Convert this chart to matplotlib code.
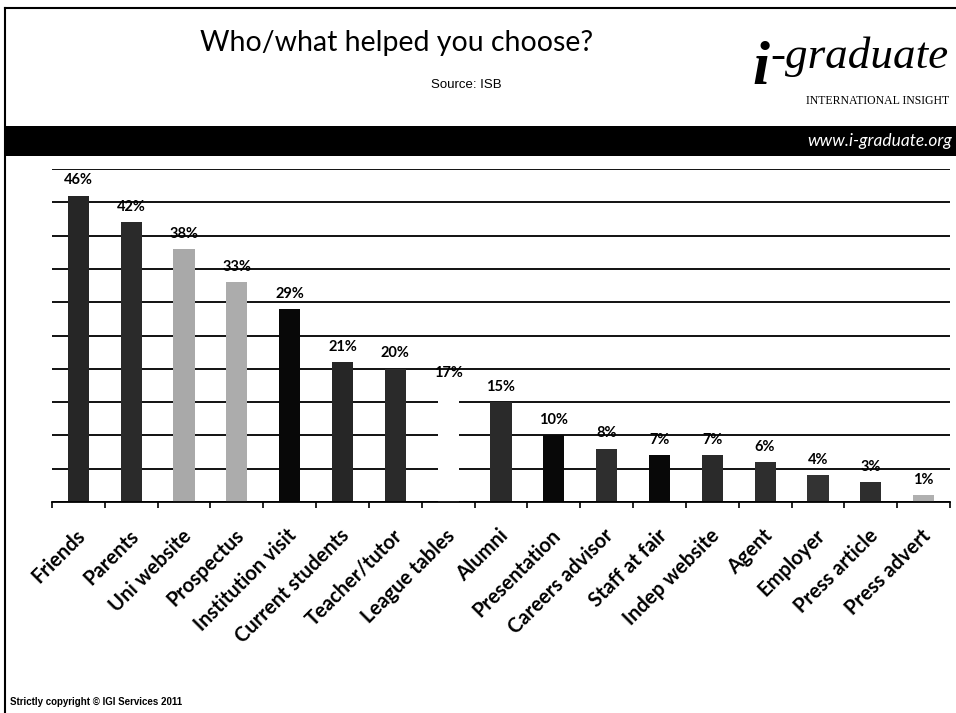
import numpy as np
import matplotlib.pyplot as plt
import matplotlib.transforms as mtransforms
from matplotlib.patches import Rectangle
from matplotlib.lines import Line2D

categories = ["Friends", "Parents", "Uni website", "Prospectus", "Institution visit",
              "Current students", "Teacher/tutor", "League tables", "Alumni",
              "Presentation", "Careers advisor", "Staff at fair", "Indep website",
              "Agent", "Employer", "Press article", "Press advert"]
values = [46, 42, 38, 33, 29, 21, 20, 17, 15, 10, 8, 7, 7, 6, 4, 3, 1]
bar_colors = ["#262626", "#2a2a2a", "#a9a9a9", "#acacac", "#080808",
              "#262626", "#2a2a2a", "#ffffff", "#2a2a2a",
              "#080808", "#2e2e2e", "#080808", "#2a2a2a",
              "#2e2e2e", "#333333", "#2e2e2e", "#b0b0b0"]

W, H = 956, 713
fig = plt.figure(figsize=(W / 100, H / 100), dpi=100)


def fx(x):
    return x / W


def fy(y):
    return 1 - y / H


# frame lines and black band
fig.add_artist(Line2D([fx(5), fx(956)], [fy(8), fy(8)], color="black", lw=1.5))
fig.add_artist(Line2D([fx(5), fx(5)], [fy(8), fy(713)], color="black", lw=1.5))
fig.add_artist(Rectangle((fx(5), fy(156)), fx(956) - fx(5), fy(126) - fy(156),
                         facecolor="black", edgecolor="none"))

# header texts
fig.text(fx(397), fy(51), "Who/what helped you choose?", fontsize=20.5,
         family="Lato", ha="center", va="baseline")
fig.text(fx(466), fy(88), "Source: ISB", fontsize=9.5,
         family="Liberation Sans", ha="center", va="baseline")
fig.text(fx(752), fy(84), "i", fontsize=44, family="Liberation Serif",
         style="italic", weight="bold", ha="left", va="baseline")
fig.text(fx(770), fy(68), "-graduate", fontsize=32.5, family="Liberation Serif",
         style="italic", ha="left", va="baseline")
fig.text(fx(949), fy(104), "INTERNATIONAL INSIGHT", fontsize=8.5,
         family="Liberation Serif", ha="right", va="baseline")
fig.text(fx(952), fy(141), "www.i-graduate.org", fontsize=12.5, family="Lato",
         style="italic", color="white", ha="right", va="center")

fig.text(fx(10), fy(702), "Strictly copyright \u00a9 IGI Services 2011", fontsize=7,
         family="Liberation Sans", weight="bold", ha="left", va="center")

# chart
ax = fig.add_axes([fx(52), fy(502), fx(950) - fx(52), fy(169) - fy(502)])
x = np.arange(len(categories))
ax.bar(x, values, width=0.4, color=bar_colors, zorder=2)

ax.set_xlim(-0.5, len(categories) - 0.5)
ax.set_ylim(0, 50)
ax.set_yticks(np.arange(0, 51, 5))
ax.yaxis.grid(True, color="#111111", lw=1.4, zorder=0)
ax.set_axisbelow(True)
ax.tick_params(axis="y", left=False, labelleft=False)

for s in ["top", "right", "left"]:
    ax.spines[s].set_visible(False)
ax.spines["bottom"].set_linewidth(1.3)

for xi, v in zip(x, values):
    ax.annotate(f"{v}%", (xi, v), xytext=(0, 6), textcoords="offset points",
                ha="center", va="bottom", fontsize=10.5, family="Lato",
                weight="bold", zorder=3)

ax.set_xticks(np.arange(-0.5, len(categories), 1))
ax.set_xticklabels([])
ax.tick_params(axis="x", which="major", length=4.5, width=1.2, direction="out")
ax.set_xticks(x, minor=True)
ax.set_xticklabels(categories, minor=True, rotation=45, ha="right",
                   rotation_mode="anchor", fontsize=14.5, family="Lato",
                   weight="bold")
ax.tick_params(axis="x", which="minor", length=0, pad=17)
shift = mtransforms.ScaledTranslation(-3 / 100, 0, fig.dpi_scale_trans)
for lbl in ax.get_xticklabels(minor=True):
    lbl.set_transform(lbl.get_transform() + shift)

plt.savefig("out.png", dpi=100)
